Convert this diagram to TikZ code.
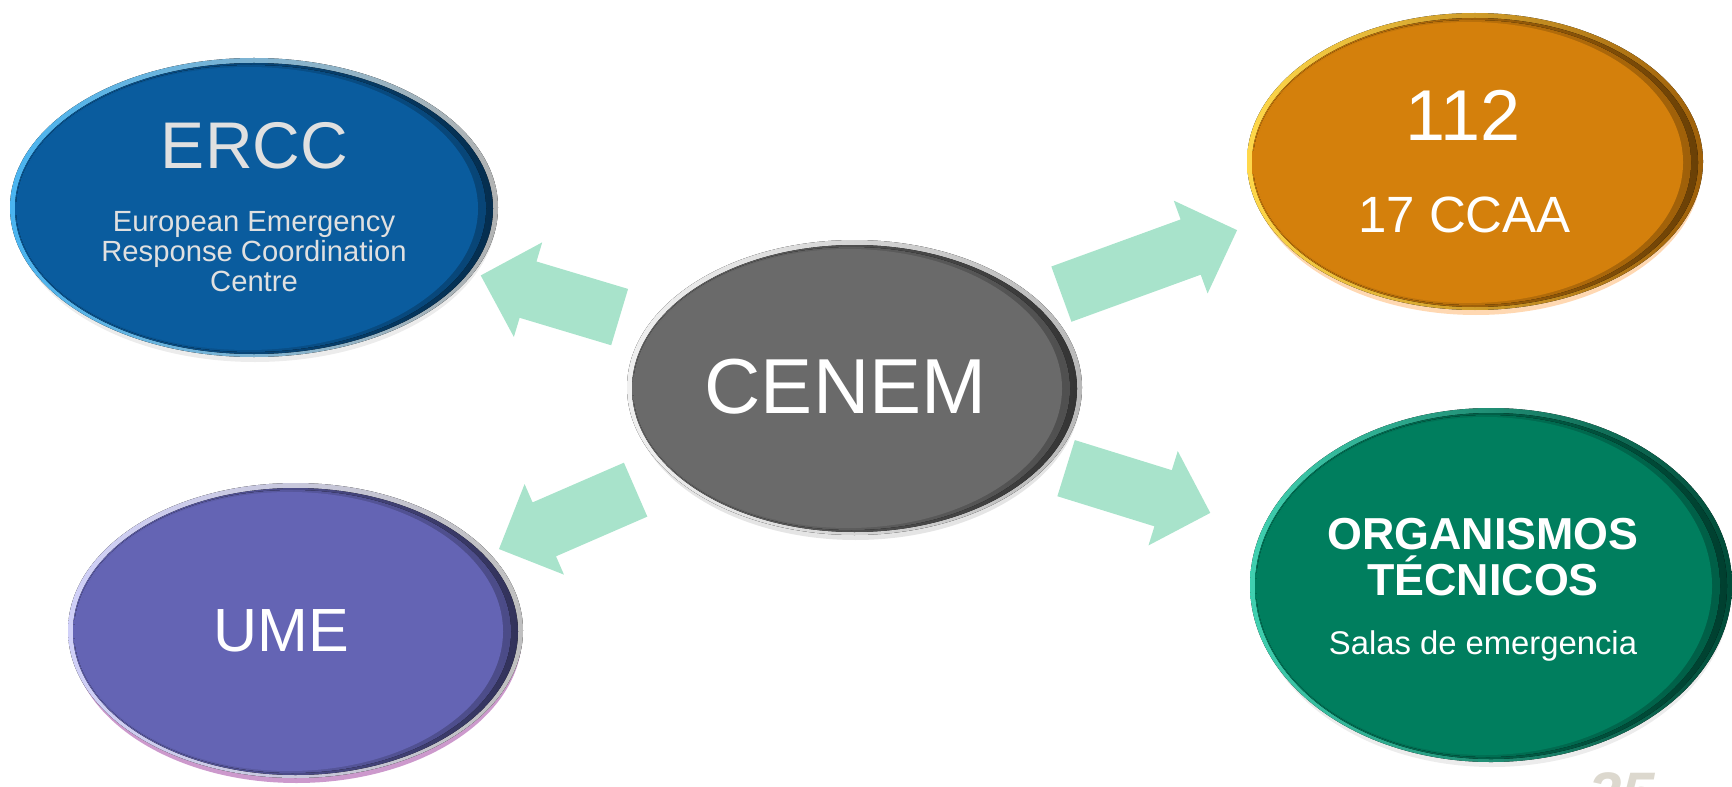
\documentclass[tikz,border=0pt]{standalone}
\usepackage{fontspec}
\setmainfont{Liberation Sans}
\usepackage{xcolor}
\usepackage{tikz}
\usetikzlibrary{positioning,shapes,calc}
\definecolor{azulercc}{HTML}{0A5C9E}
\definecolor{bordeercc}{HTML}{4AB4F0}
\definecolor{naranja}{HTML}{D4800C}
\definecolor{bordenaranja}{HTML}{FFD84A}
\definecolor{gris}{HTML}{6A6A6A}
\definecolor{bordegris}{HTML}{F0F0F0}
\definecolor{violeta}{HTML}{6464B4}
\definecolor{bordevioleta}{HTML}{D0D0F8}
\definecolor{verde}{HTML}{007E5E}
\definecolor{bordeverde}{HTML}{40D0B0}
\definecolor{flechaverde}{HTML}{A8E3CB}
\definecolor{textogris}{HTML}{E0E0E0}
\definecolor{numpagina}{HTML}{DCD8CE}
\tikzstyle{burbuja}=[ellipse, inner sep=0pt]
\tikzstyle{etiqueta}=[align=center, text=white, inner sep=0pt]
\tikzstyle{flecha}=[single arrow, fill=flechaverde, inner xsep=0pt,
  inner ysep=14.5pt, minimum width=49pt, single arrow head extend=10pt,
  sloped, allow upside down, anchor=tail]
% name, centre, x radius, y radius, fill, rim left, rim right, glow
\newcommand{\pastilla}[8]{
\fill[#8, opacity=.5] ($(#2)+(1,5)$) ellipse [x radius=#3-2, y radius=#4];
\fill[left color=#6, right color=#7] (#2) ellipse [x radius=#3, y radius=#4];
\fill[left color=#5, right color=#5!50!black] ($(#2)+(0,1)$)
  ellipse [x radius=#3-5, y radius=#4-4];
\fill[left color=#5, right color=#5!75!black] ($(#2)+(-3,1)$)
  ellipse [x radius=#3-9, y radius=#4-6];
\fill[#5] ($(#2)+(-6,1)$) ellipse [x radius=#3-14, y radius=#4-8];
\node (#1) [burbuja, minimum width=#3pt, minimum height=#4pt] at (#2) {};
}

\begin{document}
\begin{tikzpicture}[x=0.5pt, y=-0.5pt]
    \useasboundingbox (0,0) rectangle (1732,786);
    \clip (0,0) rectangle (1732,786);
    \pastilla{ercc}{254,207.5}{244}{149.5}{azulercc}{bordeercc}{gray!60}{gray!30}
    \pastilla{emergencias}{1475,161.5}{228}{148.5}{naranja}{bordenaranja}{naranja!75!black}{orange!60}
    \pastilla{cenem}{854.5,387.5}{227.5}{147.5}{gris}{bordegris}{gray!55}{gray!40}
    \pastilla{ume}{295.5,630.5}{227.5}{147.5}{violeta}{bordevioleta}{gray!50}{violet!80}
    \pastilla{organismos}{1491,585}{241}{177}{verde}{bordeverde}{verde!60!black}{gray!30}

    \path (cenem.center) -- (ercc.center)
          node (flercc) [flecha, minimum height=72.5pt, pos=0.3905] {};
    \path ($(cenem)+(0,-18)$) -- ($(emergencias)+(0,-18)$)
          node (fl112) [flecha, minimum height=93.5pt, pos=0.3328] {};
    \path ($(cenem)+(0,15)$) -- ($(organismos)+(0,15)$)
          node (florg) [flecha, minimum height=75.5pt, pos=0.3318] {};
    \path ($(cenem)+(0,7)$) -- ($(ume)+(0,7)$)
          node (flume) [flecha, minimum height=74.5pt, pos=0.3909] {};

    \node (erccsigla) [etiqueta, text=textogris, font=\fontsize{33}{36}\selectfont]
          at ($(ercc)+(0.5,-61.5)$) {ERCC};
    \node (erccnombre) [etiqueta, text=textogris, font=\fontsize{14.6}{15}\selectfont]
          at ($(ercc)+(0,44.5)$) {European Emergency\\Response Coordination\\Centre};
    \node (num112) [etiqueta, font=\fontsize{36}{40}\selectfont]
          at ($(emergencias)+(-12,-46.5)$) {112};
    \node (ccaa) [etiqueta, font=\fontsize{25.5}{28}\selectfont]
          at ($(emergencias)+(-10.5,53.5)$) {17 CCAA};
    \node (cenemtxt) [etiqueta, font=\fontsize{39}{43}\selectfont]
          at ($(cenem)+(-9,-1)$) {CENEM};
    \node (umetxt) [etiqueta, font=\fontsize{30.5}{34}\selectfont]
          at ($(ume)+(-14,0)$) {UME};
    \node (orgtit) [etiqueta, font=\fontsize{22.4}{23}\selectfont\bfseries]
          at ($(organismos)+(-8,-28)$) {ORGANISMOS\\TÉCNICOS};
    \node (salas) [etiqueta, anchor=base, font=\fontsize{16.4}{18}\selectfont]
          at ($(organismos)+(-8,69)$) {Salas de emergencia};
    \node (pagina) [anchor=north west, inner sep=0pt, text=numpagina,
          font=\fontsize{30}{32}\selectfont\bfseries\itshape] at (1588,772) {25};
\end{tikzpicture}
\end{document}
